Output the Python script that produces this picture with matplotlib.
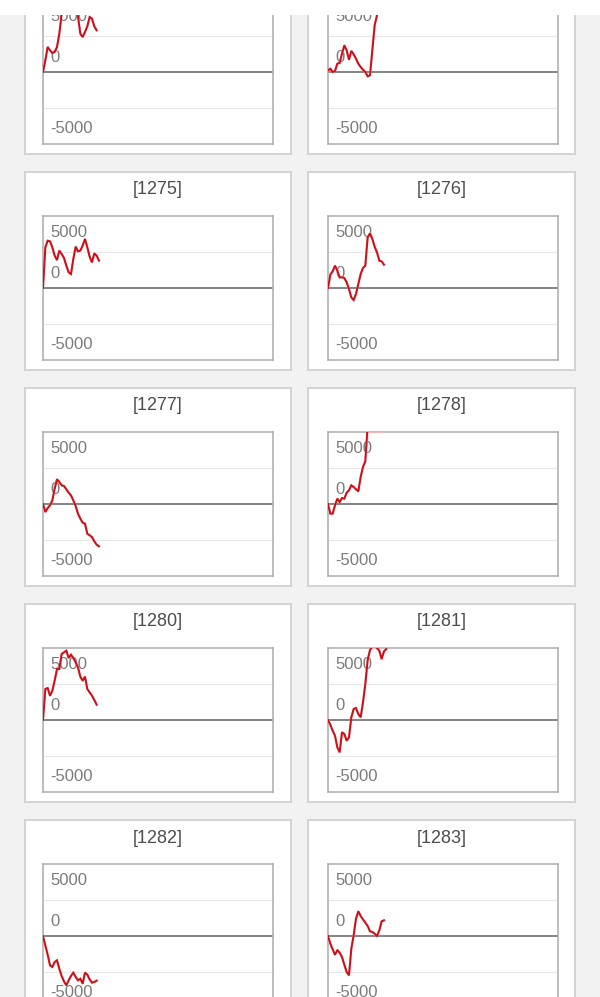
import numpy as np
import matplotlib
matplotlib.use("Agg")
import matplotlib.pyplot as plt
from matplotlib.patches import Rectangle

plt.rcParams['font.family'] = ['Liberation Sans', 'DejaVu Sans']

# ---- data (cumulative balance per panel) ----
titles = ["[1273]", "[1274]", "[1275]", "[1276]", "[1277]", "[1278]",
          "[1280]", "[1281]", "[1282]", "[1283]"]

s1273 = [0, 1620, 3470, 3010, 2640, 2780, 3470, 5320, 8100, 9030, 9490, 9720,
         9490, 9030, 8330, 7730, 5320, 4860, 5560, 6340, 7640, 7410, 6340, 5790]
s1274 = [230, 460, 0, 140, 1160, 1250, 2550, 3700, 3010, 1710, 2920, 2450,
         1850, 1160, 690, 320, 0, -600, -460, 3010, 6480, 7870, 9000, 10000, 11000]
s1275 = [0, 5650, 6570, 6480, 5650, 4490, 3890, 5190, 4720, 4170, 3100, 2180,
         1940, 4030, 5740, 5090, 5190, 5880, 6810, 5650, 4350, 3560, 4810, 4490, 3800]
s1276 = [0, 1850, 2310, 3100, 2410, 1480, 1480, 1390, 790, -140, -1300, -1670,
         -830, 560, 1940, 2780, 3100, 7040, 7590, 6810, 5740, 4950, 3800, 3700, 3240]
s1277 = [0, -1110, -560, -190, 510, 2130, 3430, 3060, 2590, 2500, 2040, 1570,
         1200, 510, -280, -1340, -2040, -2590, -2730, -4120, -4350, -4580, -5190,
         -5650, -5880]
s1278 = [0, -1340, -1340, -190, 740, 280, 830, 740, 1570, 1900, 2590, 2360,
         2040, 1760, 3750, 5140, 5930, 11000, 12000, 12500, 13000, 12500, 13000, 13500]
s1280 = [0, 4300, 4440, 3380, 4070, 5460, 7080, 7080, 9170, 9400, 9630, 8610,
         9070, 8610, 8010, 7310, 6020, 5460, 6020, 4300, 3840, 3380, 2780, 2130]
s1281 = [0, -650, -1480, -2180, -3800, -4490, -1710, -1940, -2870, -2410, 370,
         1530, 1670, 830, 370, 2450, 5000, 8330, 9720, 10200, 10200, 10000, 9630,
         8470, 9540, 9860]
s1282 = [0, -1300, -2590, -4070, -4300, -3610, -3380, -4540, -5560, -6300, -6850,
         -6160, -5560, -5090, -5690, -6160, -5930, -6620, -5090, -5370, -6020,
         -6480, -6390, -6200]
s1283 = [0, -1060, -1850, -2590, -1990, -2310, -2920, -3980, -5000, -5460, -1760,
         90, 2410, 3430, 2780, 2310, 1850, 1390, 650, 560, 320, 0, 790, 2040, 2180]

series = [s1273, s1274, s1275, s1276, s1277, s1278, s1280, s1281, s1282, s1283]

y_ticks = [5000, 0, -5000]
y_tick_labels = ["5000", "0", "-5000"]

# ---- layout ----
W, H = 600, 997
fig = plt.figure(figsize=(W / 100, H / 100), dpi=100)
fig.patch.set_facecolor('#f2f2f2')

def fx(px):
    return px / W

def fy(py):
    return 1 - py / H

card_tops = [-44, 172, 388, 604, 820]
card_x = [(25, 266), (308, 267)]
plot_x = [43, 328]
card_h = 198
plot_w, plot_h = 230, 144

RED = '#cf0d17'
label_pos = {5000: 7640, 0: 2080, -5000: -7850}

for i, (title, vals) in enumerate(zip(titles, series)):
    row, col = divmod(i, 2)
    top = card_tops[row]
    cx, cw = card_x[col]
    fig.patches.append(Rectangle((fx(cx), fy(top + card_h)), fx(cw), card_h / H,
                                 transform=fig.transFigure, facecolor='white',
                                 edgecolor='#d3d3d3', linewidth=1.4, zorder=-5))
    if top + 18 > 15:
        fig.text(fx(cx + cw / 2), fy(top + 18), title, ha='center', va='center',
                 fontsize=13, color='#4d4d4d', zorder=1)

    ax = fig.add_axes([fx(plot_x[col]), fy(top + 44 + plot_h), fx(plot_w), plot_h / H])
    ax.set_zorder(1)
    ax.set_facecolor('white')
    ax.set_xlim(0, 98.6)
    ax.set_ylim(-10000, 10000)
    ax.set_xticks([])
    ax.set_yticks([])
    for sp in ax.spines.values():
        sp.set_color('#ababab')
        sp.set_linewidth(1.1)
    ax.axhline(5000, color='#e8e8e8', lw=0.9, zorder=1)
    ax.axhline(-5000, color='#e8e8e8', lw=0.9, zorder=1)
    ax.axhline(0, color='#7a7a7a', lw=1.3, zorder=2)
    for t, lab in zip(y_ticks, y_tick_labels):
        ax.text(7 / plot_w, label_pos[t], lab, ha='left', va='center',
                transform=ax.get_yaxis_transform(),
                fontsize=12, color='#7b7b7b', zorder=3)
    x = np.arange(len(vals))
    v = np.array(vals, dtype=float)
    ax.plot(x, np.clip(v, -10000, 10000), color='#f2b8b8', lw=1.6, zorder=3.5)
    ax.plot(x, v, color=RED, lw=1.4, zorder=4, solid_joinstyle='miter')

# white strip at very top
fig.patches.append(Rectangle((0, fy(15)), 1, 15 / H, transform=fig.transFigure,
                             facecolor='white', edgecolor='none', zorder=10))

fig.savefig('out.png', dpi=100, facecolor=fig.get_facecolor())
